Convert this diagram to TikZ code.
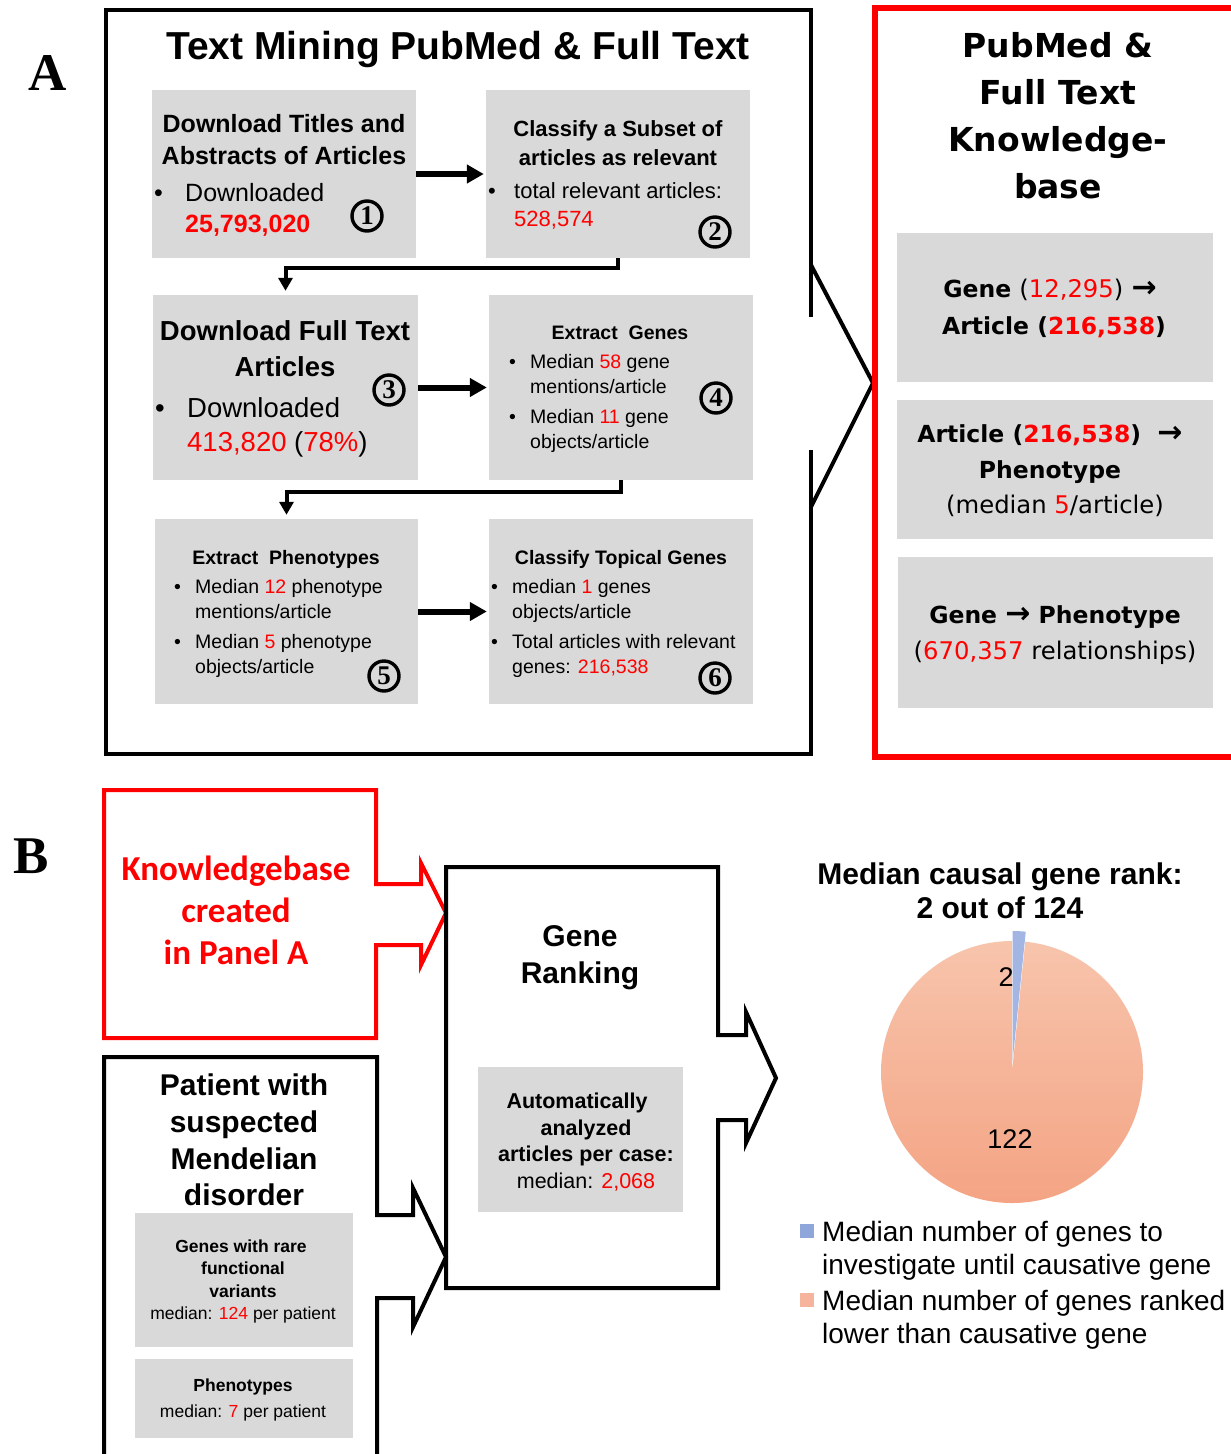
\documentclass[tikz,border=0pt]{standalone}
\usepackage{fontspec}
\setmainfont{Liberation Sans}
\newfontfamily\dvs{DejaVu Sans}
\newfontfamily\carl{Carlito}
\newfontfamily\tms{Liberation Serif}
\usetikzlibrary{arrows.meta}
\definecolor{gb}{HTML}{D9D9D9}
\definecolor{rd}{HTML}{FF0000}
\definecolor{pieT}{HTML}{F7C4AC}
\definecolor{pieB}{HTML}{F4A383}
\definecolor{pieBlue}{HTML}{A3B6E3}
\definecolor{legBlue}{HTML}{8FA6DA}
\definecolor{legOr}{HTML}{F5B49B}
\newcommand\fsz[1]{\fontsize{#1}{#1}\selectfont}
\newcommand\R[1]{\textcolor{rd}{#1}}
\newcommand\karr{{\dvs\bfseries\fsz{30}→}}
\begin{document}
\begin{tikzpicture}[x=1pt,y=-1pt,
 gbox/.style={fill=gb, draw=none, inner sep=0pt},
 txt/.style={inner sep=0pt, anchor=base},
 lt/.style={inner sep=0pt, anchor=base west},
 num/.style={circle, draw, line width=3.4pt, minimum size=30pt, inner sep=0pt, font=\tms\bfseries\fsz{27}},
 flow/.style={line width=6pt, -{Triangle[length=17pt,width=18pt]}, shorten >=2pt},
 elbow/.style={line width=4pt, -{Triangle[length=13pt,width=14pt]}, shorten >=4pt},
 frame/.style={line width=4pt, line join=miter},
 kbold/.style={txt, font=\dvs\bfseries\fsz{23.5}},
 kreg/.style={txt, font=\dvs\fsz{24.3}},
]
\useasboundingbox (0,0) rectangle (1231,1454);
\fill[white] (0,0) rectangle (1231,1454);

% ---------- Panel A ----------
\node[txt, font=\tms\bfseries\fsz{53}] (LA) at (48,90) {A};
\draw[frame] (811,317) -- (811,10) -- (106,10) -- (106,754) -- (811,754) -- (811,450);
\draw[frame] (811,265) -- (873,383) -- (811,507);
\node[txt, font=\bfseries\fsz{39}] (tA) at (458,59) {Text Mining PubMed \& Full Text};

\node[gbox, minimum width=264pt, minimum height=168pt] (b1) at (284,174) {};
\node[gbox, minimum width=264pt, minimum height=168pt] (b2) at (618,174) {};
\node[gbox, minimum width=265pt, minimum height=185pt] (b3) at (285.5,387.5) {};
\node[gbox, minimum width=264pt, minimum height=185pt] (b4) at (621,387.5) {};
\node[gbox, minimum width=263pt, minimum height=185pt] (b5) at (286.5,611.5) {};
\node[gbox, minimum width=264pt, minimum height=185pt] (b6) at (621,611.5) {};

\draw[flow] (b1.east) -- (b2.west);
\draw[flow] (b3.east) -- (b4.west);
\draw[flow] (b5.east) -- (b6.west);
\draw[elbow] (b2.south) -- ++(0,10) -| (b3.north);
\draw[elbow] (b4.south) -- ++(0,12) -| (b5.north);

% box 1
\node[txt, font=\bfseries\fsz{25}] (t1a) at (284,132) {Download Titles and};
\node[txt, font=\bfseries\fsz{25}] (t1b) at (284,164) {Abstracts of Articles};
\node[lt, font=\fsz{25}] (t1c) at (154,201) {•};
\node[lt, font=\fsz{25}] (t1d) at (185,201) {Downloaded};
\node[lt, font=\bfseries\fsz{25}, text=rd] (t1e) at (185,232) {25,793,020};
\node[num] (n1) at (367,216) {1};
% box 2
\node[txt, font=\bfseries\fsz{22}] (t2a) at (618,136) {Classify a Subset of};
\node[txt, font=\bfseries\fsz{22}] (t2b) at (618,165) {articles as relevant};
\node[lt, font=\fsz{22}] (t2c) at (488,198) {•};
\node[lt, font=\fsz{22}] (t2d) at (514,198) {total relevant articles:};
\node[lt, font=\fsz{22}, text=rd] (t2e) at (514,226) {528,574};
\node[num] (n2) at (715,232) {2};
% box 3
\node[txt, font=\bfseries\fsz{27.5}] (t3a) at (285,340) {Download Full Text};
\node[txt, font=\bfseries\fsz{27.5}] (t3b) at (285,376) {Articles};
\node[lt, font=\fsz{27.5}] (t3c) at (155,417) {•};
\node[lt, font=\fsz{27.5}] (t3d) at (187,417) {Downloaded};
\node[lt, font=\fsz{27.5}] (t3e) at (187,451) {\R{413,820} (\R{78\%})};
\node[num] (n3) at (389,390) {3};
% box 4
\node[txt, font=\bfseries\fsz{19.5}] (t4a) at (620,339) {Extract~~Genes};
\node[lt, font=\fsz{19.5}] (t4b) at (509,368) {•};
\node[lt, font=\fsz{19.5}] (t4c) at (530,368) {Median \R{58} gene};
\node[lt, font=\fsz{19.5}] (t4d) at (530,393) {mentions/article};
\node[lt, font=\fsz{19.5}] (t4e) at (509,423) {•};
\node[lt, font=\fsz{19.5}] (t4f) at (530,423) {Median \R{11} gene};
\node[lt, font=\fsz{19.5}] (t4g) at (530,448) {objects/article};
\node[num] (n4) at (716,398) {4};
% box 5
\node[txt, font=\bfseries\fsz{19.5}] (t5a) at (286,564) {Extract~~Phenotypes};
\node[lt, font=\fsz{19.5}] (t5b) at (174,593) {•};
\node[lt, font=\fsz{19.5}] (t5c) at (195,593) {Median \R{12} phenotype};
\node[lt, font=\fsz{19.5}] (t5d) at (195,618) {mentions/article};
\node[lt, font=\fsz{19.5}] (t5e) at (174,648) {•};
\node[lt, font=\fsz{19.5}] (t5f) at (195,648) {Median \R{5} phenotype};
\node[lt, font=\fsz{19.5}] (t5g) at (195,673) {objects/article};
\node[num] (n5) at (384,676) {5};
% box 6
\node[txt, font=\bfseries\fsz{19.5}] (t6a) at (621,564) {Classify Topical Genes};
\node[lt, font=\fsz{19.5}] (t6b) at (491,593) {•};
\node[lt, font=\fsz{19.5}] (t6c) at (512,593) {median \R{1} genes};
\node[lt, font=\fsz{19.5}] (t6d) at (512,618) {objects/article};
\node[lt, font=\fsz{19.5}] (t6e) at (491,648) {•};
\node[lt, font=\fsz{19.5}] (t6f) at (512,648) {Total articles with relevant};
\node[lt, font=\fsz{19.5}] (t6g) at (512,673) {genes: \R{216,538}};
\node[num] (n6) at (715,678) {6};

% knowledge base (red)
\draw[rd, line width=6pt] (875,8) rectangle (1240,757);
\node[txt, font=\dvs\bfseries\fsz{33}] (kt1) at (1058,57) {PubMed \&};
\node[txt, font=\dvs\bfseries\fsz{33}] (kt2) at (1058,104) {Full Text};
\node[txt, font=\dvs\bfseries\fsz{33}] (kt3) at (1058,151) {Knowledge-};
\node[txt, font=\dvs\bfseries\fsz{33}] (kt4) at (1058,198) {base};
\node[gbox, minimum width=316pt, minimum height=149pt] (k1) at (1055,307.5) {};
\node[gbox, minimum width=316pt, minimum height=139pt] (k2) at (1055,469.5) {};
\node[gbox, minimum width=315pt, minimum height=151pt] (k3) at (1055.5,632.5) {};
\node[kbold] (k1a) at (1050,297) {Gene {\mdseries\fsz{24.3}(\R{12,295})} \karr};
\node[kbold] (k1b) at (1054,334) {Article (\R{216,538})};
\node[kbold] (k2a) at (1050,442) {Article (\R{216,538})~~\karr};
\node[kbold] (k2b) at (1050,478) {Phenotype};
\node[kreg] (k2c) at (1055,513) {(median \R{5}/article)};
\node[kbold] (k3a) at (1055,623) {Gene \karr{} Phenotype};
\node[kreg] (k3b) at (1055,659) {(\R{670,357} relationships)};

% ---------- Panel B ----------
\node[txt, font=\tms\bfseries\fsz{53}] (LB) at (31,873) {B};
\draw[frame, rd] (376,884) -- (376,790) -- (104,790) -- (104,1038) -- (376,1038) -- (376,945)
  -- (421,945) -- (421,965) -- (446,913) -- (421,863) -- (421,884) -- cycle;
\node[txt, font=\carl\bfseries\fsz{35}, text=rd] (kb1) at (236,880) {Knowledgebase};
\node[txt, font=\carl\bfseries\fsz{35}, text=rd] (kb2) at (236,922) {created};
\node[txt, font=\carl\bfseries\fsz{35}, text=rd] (kb3) at (236,964) {in Panel A};

\draw[frame] (446,867) -- (718,867) -- (718,1035) -- (746,1035) -- (746,1012) -- (776,1078)
  -- (746,1143) -- (746,1120) -- (718,1120) -- (718,1288) -- (446,1288) -- cycle;
\node[txt, font=\bfseries\fsz{30}] (gr1) at (580,946) {Gene};
\node[txt, font=\bfseries\fsz{30}] (gr2) at (580,983) {Ranking};
\node[gbox, minimum width=205pt, minimum height=145pt] (ab) at (580.5,1139.5) {};
\node[txt, font=\bfseries\fsz{21.5}] (ab1) at (577,1108) {Automatically};
\node[txt, font=\bfseries\fsz{21.5}] (ab2) at (586,1135) {analyzed};
\node[txt, font=\bfseries\fsz{21.5}] (ab3) at (586,1161) {articles per case:};
\node[txt, font=\fsz{21.5}] (ab4) at (586,1188) {median: \R{2,068}};

\draw[frame] (104,1460) -- (104,1057) -- (377,1057) -- (377,1215) -- (413,1215) -- (413,1188)
  -- (446,1257) -- (413,1327) -- (413,1298) -- (377,1298) -- (377,1460);
\node[txt, font=\bfseries\fsz{30}] (p1) at (244,1095) {Patient with};
\node[txt, font=\bfseries\fsz{30}] (p2) at (244,1132) {suspected};
\node[txt, font=\bfseries\fsz{30}] (p3) at (244,1169) {Mendelian};
\node[txt, font=\bfseries\fsz{30}] (p4) at (244,1205) {disorder};
\node[gbox, minimum width=218pt, minimum height=134pt] (g1) at (244,1280) {};
\node[gbox, minimum width=218pt, minimum height=79pt] (g2) at (244,1398.5) {};
\node[txt, font=\bfseries\fsz{17.5}] (g1a) at (241,1252) {Genes with rare};
\node[txt, font=\bfseries\fsz{17.5}] (g1b) at (243,1274) {functional};
\node[txt, font=\bfseries\fsz{17.5}] (g1c) at (243,1297) {variants};
\node[txt, font=\fsz{17.5}] (g1d) at (243,1319) {median: \R{124} per patient};
\node[txt, font=\bfseries\fsz{17.5}] (g2a) at (243,1391) {Phenotypes};
\node[txt, font=\fsz{17.5}] (g2b) at (243,1417) {median: \R{7} per patient};

% pie chart
\node[txt, font=\bfseries\fsz{30}] (pt1) at (1000,884) {Median causal gene rank:};
\node[txt, font=\bfseries\fsz{30}] (pt2) at (1000,918) {2 out of 124};
\shade[top color=pieT, bottom color=pieB] (1012,1072) -- ++(-84.2:131) arc[start angle=-84.2, end angle=270, radius=131] -- cycle;
\fill[pieBlue] (1012.5,1062) -- ++(-90:131) arc[start angle=-90, end angle=-84.2, radius=131] -- cycle;
\node[txt, font=\fsz{27}] (pl1) at (1006,986) {2};
\node[txt, font=\fsz{27}] (pl2) at (1010,1148) {122};
\fill[legBlue] (800,1224) rectangle (814,1238);
\fill[legOr] (800,1293) rectangle (814,1307);
\node[lt, font=\fsz{28}] (lg1) at (822,1241) {Median number of genes to};
\node[lt, font=\fsz{28}] (lg2) at (822,1274) {investigate until causative gene};
\node[lt, font=\fsz{28}] (lg3) at (822,1310) {Median number of genes ranked};
\node[lt, font=\fsz{28}] (lg4) at (822,1343) {lower than causative gene};
\end{tikzpicture}
\end{document}
